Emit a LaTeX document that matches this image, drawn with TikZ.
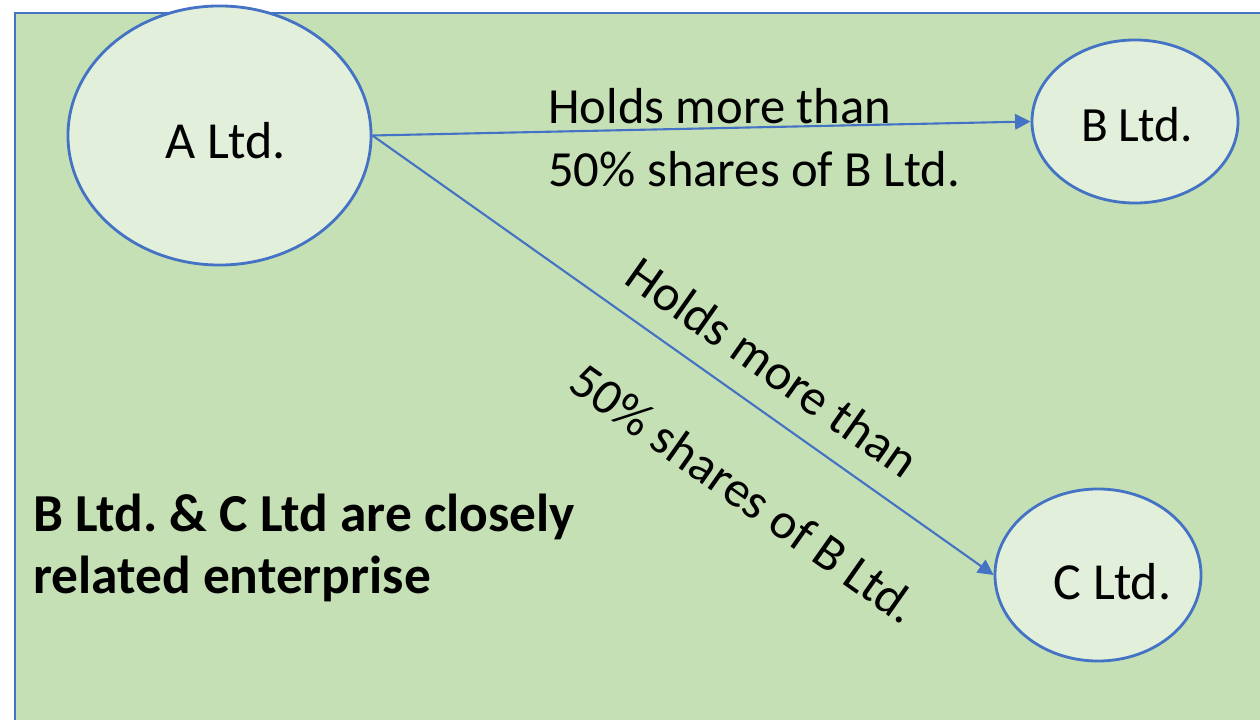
\documentclass[tikz,border=0pt]{standalone}
\usepackage{fontspec}
\setmainfont{Carlito}
\usetikzlibrary{shapes.geometric,arrows.meta}
\definecolor{sheetgreen}{HTML}{C5E0B4}
\definecolor{firmfill}{HTML}{E2EFDA}
\definecolor{officeblue}{HTML}{4472C4}
\begin{document}
\begin{tikzpicture}[x=0.025cm, y=-0.025cm,
    firm/.style={ellipse, draw=officeblue, line width=2pt, fill=firmfill, inner sep=0pt},
    firmtext/.style={inner sep=0pt, font=\fontsize{37}{44}\selectfont},
    holds/.style={-{Triangle[length=11pt,width=11pt]}, draw=officeblue, line width=1.5pt},
    holdstext/.style={inner sep=0pt, align=left, font=\fontsize{36}{45}\selectfont}]
        \useasboundingbox (0,0) rectangle (1260,720);
        \clip (0,0) rectangle (1260,720);
        \fill [sheetgreen] (15,13) rectangle (1280,740);
        \draw [officeblue, line width=1.9pt] (15,740) -- (15,13) -- (1280,13);
        \node [firm, minimum width=7.575cm, minimum height=6.475cm] (A) at (219.5,135.5) {};
        \node [firm, minimum width=5.15cm, minimum height=4.075cm] (B) at (1135,121.5) {};
        \node [firm, minimum width=5.15cm, minimum height=4.3cm] (C) at (1098,575) {};
        \node [firmtext] (Aname) at (226,141) {A Ltd.};
        \node [firmtext, font=\fontsize{35}{42}\selectfont] (Bname) at (1137,124.5) {B Ltd.};
        \node [firmtext] (Cname) at (1112.5,582) {C Ltd.};
        \draw [holds] (A.east) -- (B.west);
        \draw [holds] (A.east) -- (C.west);
        \node [holdstext, anchor=west] (ABtext) at (548,138) {Holds more than\\50\% shares of B Ltd.};
        \node [holdstext, rotate=-35.2] (ACtext) at (773,440) {Holds more than\\[40pt]\hspace*{11pt}50\% shares of B Ltd.};
        \node [inner sep=0pt, anchor=west, align=left, font=\fontsize{38}{44}\selectfont\bfseries] (note) at (33,548)
            {B Ltd.\ \& C Ltd are closely\\related enterprise};
      \end{tikzpicture}
\end{document}
